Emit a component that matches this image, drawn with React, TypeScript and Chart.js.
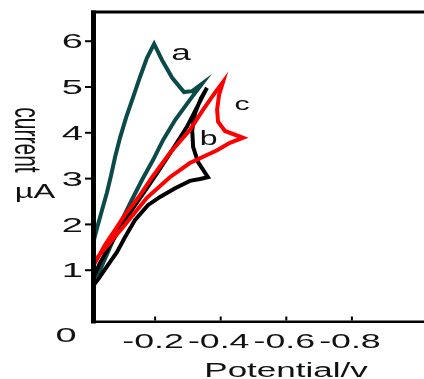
import React, { useEffect, useRef } from 'react';
import { Chart, registerables } from 'chart.js';

Chart.register(...registerables);

// ---- data (potential in V, current in µA) ----
const curveNames = ['a', 'b', 'c'];

const aPotential = [-0.011, -0.011, -0.023, -0.038, -0.053, -0.066, -0.078, -0.093, -0.111, -0.133, -0.154, -0.175, -0.197, -0.221, -0.252, -0.288, -0.313, -0.343, -0.306, -0.261, -0.224, -0.194, -0.16, -0.13, -0.099, -0.059, -0.032, -0.011];
const aCurrent = [0.8, 1.59, 1.92, 2.31, 2.69, 3.08, 3.47, 3.89, 4.32, 4.78, 5.22, 5.63, 5.94, 5.59, 5.2, 4.89, 4.91, 5.07, 4.72, 4.28, 3.84, 3.41, 2.97, 2.55, 2.1, 1.44, 1.0, 0.8];

const bPotential = [-0.011, -0.011, -0.032, -0.063, -0.099, -0.139, -0.175, -0.206, -0.252, -0.297, -0.328, -0.358, -0.34, -0.322, -0.313, -0.316, -0.331, -0.361, -0.337, -0.306, -0.261, -0.215, -0.178, -0.139, -0.108, -0.084, -0.056, -0.029, -0.011];
const bCurrent = [0.66, 0.83, 1.16, 1.55, 1.99, 2.42, 2.79, 3.12, 3.62, 4.13, 4.56, 4.98, 4.76, 4.43, 4.06, 3.69, 3.36, 3.03, 2.99, 2.95, 2.79, 2.6, 2.42, 2.1, 1.72, 1.4, 1.11, 0.83, 0.66];

const cPotential = [-0.011, -0.023, -0.047, -0.078, -0.108, -0.154, -0.191, -0.245, -0.306, -0.346, -0.38, -0.407, -0.395, -0.389, -0.392, -0.413, -0.468, -0.428, -0.389, -0.306, -0.245, -0.175, -0.102, -0.069, -0.032, -0.011];
const cCurrent = [1.09, 1.24, 1.55, 1.88, 2.21, 2.64, 3.03, 3.56, 4.06, 4.5, 4.85, 5.11, 4.83, 4.5, 4.24, 4.04, 3.89, 3.78, 3.62, 3.34, 3.03, 2.58, 1.94, 1.66, 1.35, 1.16];

// where the curve letters sit (data coordinates: potential, current)
const letterPotential = [-0.279, -0.363, -0.465];
const letterCurrent = [5.59, 3.73, 4.5];

// ---- ticks & titles ----
const xTickValues = [-0.2, -0.4, -0.6, -0.8];
const xTickLabels = ['-0.2', '-0.4', '-0.6', '-0.8'];
const yTickValues = [1, 2, 3, 4, 5, 6];
const yTickLabels = ['1', '2', '3', '4', '5', '6'];
const originLabel = '0';
const xTitle = 'Potential/v';
const yTitle = 'current';
const yUnit = 'µA';

const FONT = '"Liberation Sans", Arial, sans-serif';
const colors = ['#0b4a48', '#000000', '#ff0000'];

function toPoints(xs: number[], ys: number[]) {
  return xs.map((x, i) => ({ x, y: ys[i] }));
}

function stretchedText(
  ctx: CanvasRenderingContext2D,
  text: string,
  x: number,
  y: number,
  size: number,
  sx: number,
  align: CanvasTextAlign,
  rotate = 0
) {
  ctx.save();
  ctx.translate(x, y);
  ctx.scale(sx, 1);
  if (rotate) ctx.rotate(rotate);
  ctx.font = `${size}px ${FONT}`;
  ctx.textAlign = align;
  ctx.textBaseline = 'alphabetic';
  ctx.fillStyle = '#111';
  ctx.fillText(text, 0, 0);
  ctx.restore();
}

const decorPlugin = {
  id: 'decor',
  afterDraw(chart: any) {
    const ctx: CanvasRenderingContext2D = chart.ctx;
    const ca = chart.chartArea;
    const xs = chart.scales.x;
    const ys = chart.scales.y;
    ctx.save();
    ctx.fillStyle = '#000';
    // frame: thick left axis, top border, bottom axis
    ctx.fillRect(ca.left - 3, ca.top - 1.5, 5, ca.bottom - ca.top + 3);
    ctx.fillRect(ca.left - 3, ca.top - 1.5, ca.right - ca.left + 3, 3);
    ctx.fillRect(ca.left - 3, ca.bottom - 1.5, ca.right - ca.left + 3, 2.5);
    // y tick marks (outward)
    yTickValues.forEach((v) => {
      const y = ys.getPixelForValue(v);
      ctx.fillRect(ca.left - 9, y - 1, 7, 2);
    });
    // x tick marks (inward)
    xTickValues.forEach((v) => {
      const x = xs.getPixelForValue(v);
      ctx.fillRect(x - 1, ca.bottom - 5.5, 2, 4);
    });
    ctx.restore();

    // y tick labels
    yTickValues.forEach((v, i) => {
      const y = ys.getPixelForValue(v);
      stretchedText(ctx, yTickLabels[i], ca.left - 11, y + 7.2, 20, 1.9, 'right');
    });
    // origin label
    stretchedText(ctx, originLabel, ca.left - 28, ys.getPixelForValue(0) + 26, 20, 1.9, 'center');
    // x tick labels
    xTickValues.forEach((v, i) => {
      const x = xs.getPixelForValue(v);
      stretchedText(ctx, xTickLabels[i], x - 2, ca.bottom + 26, 21, 1.7, 'center');
    });
    // x title
    stretchedText(ctx, xTitle, (ca.left + ca.right) / 2 + 27, ca.bottom + 55, 20, 1.75, 'center');
    // y title (rotated clockwise) and unit
    stretchedText(ctx, yTitle, 15, 140, 21, 1.8, 'center', Math.PI / 2);
    stretchedText(ctx, yUnit, 35, 198, 21, 1.55, 'center');
    // curve letters
    curveNames.forEach((n, i) => {
      const x = xs.getPixelForValue(letterPotential[i]);
      const y = ys.getPixelForValue(letterCurrent[i]);
      const size = i === 0 ? 22 : i === 1 ? 20 : 19;
      stretchedText(ctx, n, x, y, size, 1.6, 'center');
    });
  },
};

export default function App() {
  const canvasRef = useRef<HTMLCanvasElement | null>(null);

  useEffect(() => {
    document.body.style.margin = '0';
    const canvas = canvasRef.current;
    if (!canvas) return;
    const chart = new Chart(canvas, {
      type: 'scatter',
      data: {
        datasets: [
          {
            label: curveNames[2],
            data: toPoints(cPotential, cCurrent),
            borderColor: colors[2],
            borderWidth: 4,
            showLine: true,
            pointRadius: 0,
            tension: 0,
            order: 0,
          },
          {
            label: curveNames[1],
            data: toPoints(bPotential, bCurrent),
            borderColor: colors[1],
            borderWidth: 4,
            showLine: true,
            pointRadius: 0,
            tension: 0,
            order: 1,
          },
          {
            label: curveNames[0],
            data: toPoints(aPotential, aCurrent),
            borderColor: colors[0],
            borderWidth: 4,
            showLine: true,
            pointRadius: 0,
            tension: 0,
            order: 2,
          },
        ],
      },
      options: {
        animation: false,
        responsive: false,
        devicePixelRatio: 1,
        layout: { padding: { left: 94, right: 0, top: 12, bottom: 57 } },
        plugins: {
          legend: { display: false },
          tooltip: { enabled: false },
        },
        events: [],
        scales: {
          x: {
            type: 'linear',
            display: false,
            reverse: true,
            min: -1.0198,
            max: -0.0137,
          },
          y: {
            type: 'linear',
            display: false,
            min: -0.131,
            max: 6.638,
          },
        },
      },
      plugins: [decorPlugin],
    });
    return () => chart.destroy();
  }, []);

  return (
    <div style={{ width: 424, height: 379, background: '#fff' }}>
      <canvas ref={canvasRef} width={424} height={379} />
    </div>
  );
}
